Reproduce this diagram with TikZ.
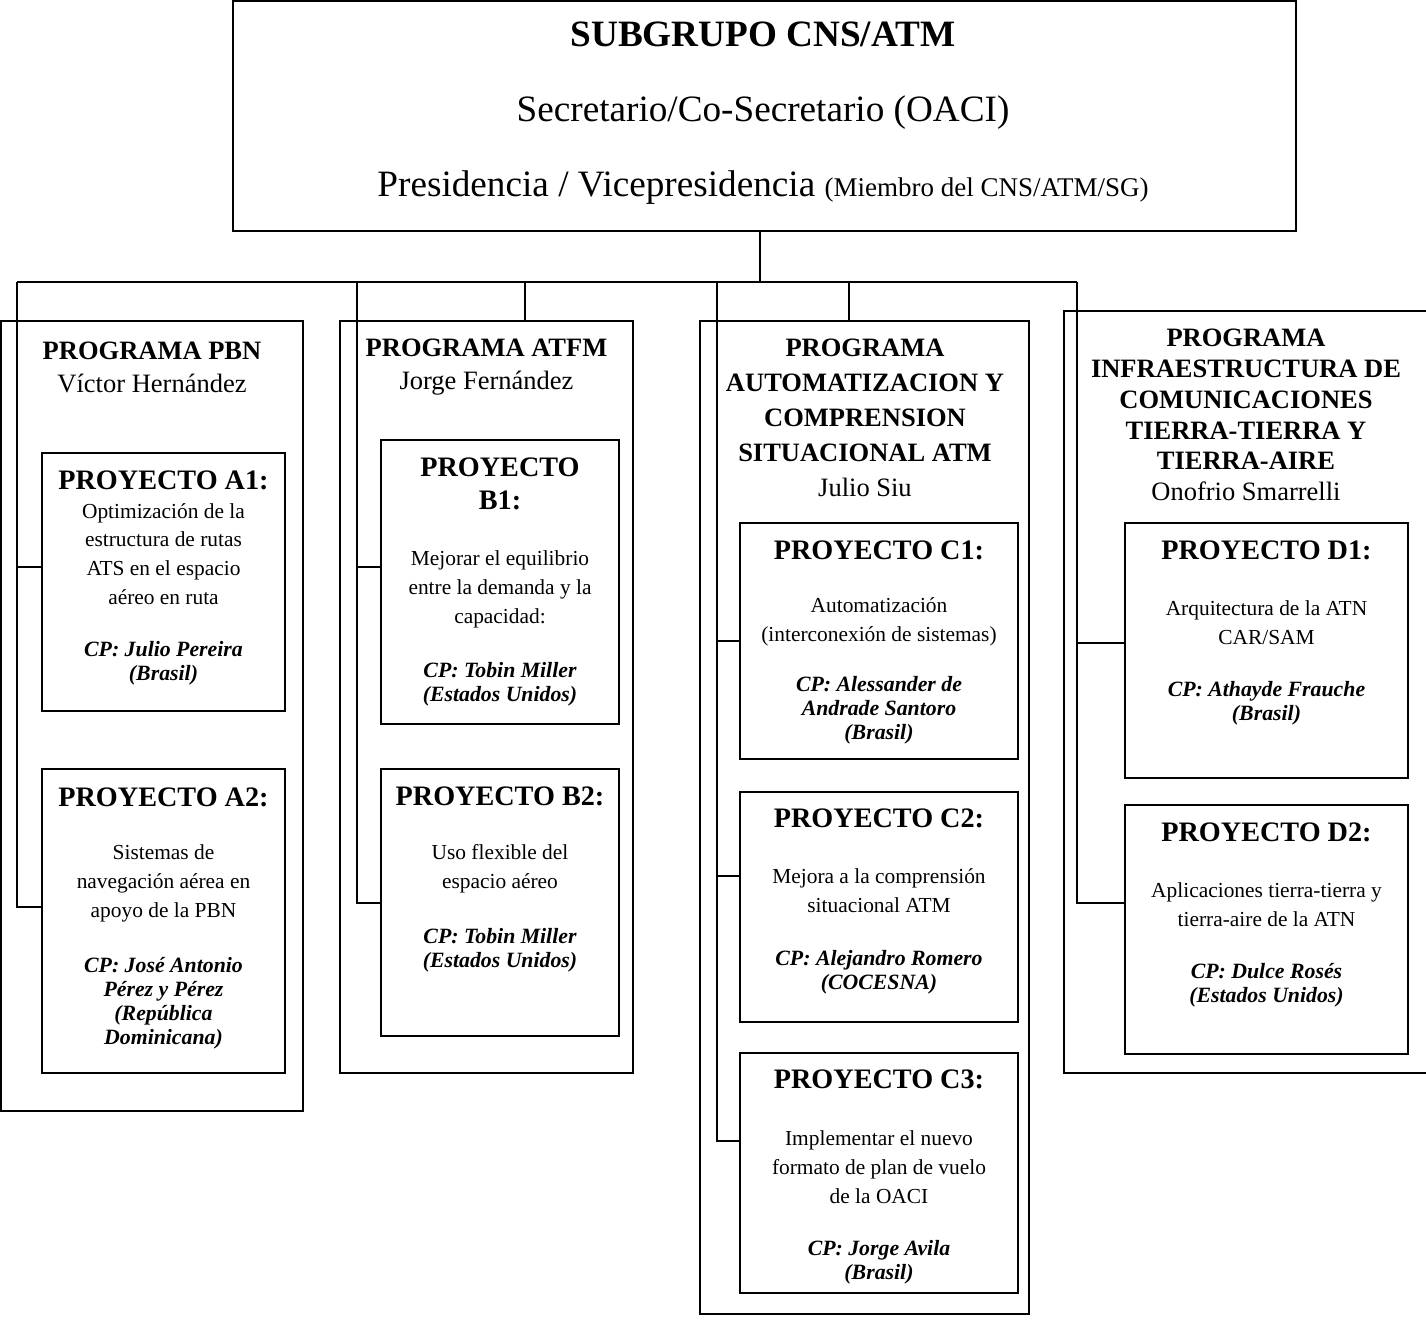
\documentclass[tikz,border=0pt]{standalone}
\usepackage{fontspec}
\setmainfont{Liberation Serif}

\begin{document}
\begin{tikzpicture}[
    x=0.5pt, y=-0.5pt,
    caja/.style={draw, line width=1pt, inner sep=0pt, outer sep=0pt},
    conector/.style={line width=1pt},
    toptext/.style={align=center, font=\fontsize{18.6}{37.5}\selectfont},
    progtext/.style={align=center, font=\fontsize{13.25}{16.5}\selectfont},
    projtitle/.style={align=center, font=\fontsize{14.1}{16.5}\selectfont\bfseries},
    projbody/.style={align=center, font=\fontsize{10.7}{14.35}\selectfont},
    projcp/.style={align=center, font=\fontsize{10.9}{12}\selectfont\bfseries\itshape}
]
    \useasboundingbox (0,0) rectangle (1426,1321);

    % Subgrupo (top box)
    \node[caja, minimum width=531.5pt, minimum height=115pt] (top) at (764.5,116) {};
    \node[toptext] (toptxt) at (763,113) {\textbf{SUBGRUPO CNS/ATM}\\ Secretario/Co-Secretario (OACI)\\ Presidencia / Vicepresidencia {\fontsize{13.5}{16}\selectfont (Miembro del CNS/ATM/SG)}};

    % Programs
    \node[caja, minimum width=151pt, minimum height=395pt] (pbn) at (152,716) {};
    \node[progtext] (pbntxt) at (152,367.5) {\textbf{PROGRAMA PBN}\\ Víctor Hernández};

    \node[caja, minimum width=146.5pt, minimum height=376pt] (atfm) at (486.5,697) {};
    \node[progtext] (atfmtxt) at (486.5,367) {\textbf{PROGRAMA ATFM}\\ Jorge Fernández};

    \node[caja, minimum width=164.5pt, minimum height=496.5pt] (aut) at (864.5,817.5) {};
    \node[progtext, font=\fontsize{13.25}{17.5}\selectfont] (auttxt) at (865,418) {\textbf{PROGRAMA}\\ \textbf{AUTOMATIZACION Y}\\ \textbf{COMPRENSION}\\ \textbf{SITUACIONAL ATM}\\ Julio Siu};

    \node[caja, minimum width=184pt, minimum height=381pt] (infra) at (1248,692) {};
    \node[progtext, font=\fontsize{13.25}{15.4}\selectfont] (infratxt) at (1246,415) {\textbf{PROGRAMA}\\ \textbf{INFRAESTRUCTURA DE}\\ \textbf{COMUNICACIONES}\\ \textbf{TIERRA-TIERRA Y}\\ \textbf{TIERRA-AIRE}\\ Onofrio Smarrelli};

    % Project A1
    \node[caja, minimum width=121.5pt, minimum height=129pt] (a1) at (163.5,582) {};
    \node[projtitle] (a1t) at (163.5,480) {PROYECTO A1:};
    \node[projbody] (a1b) at (163.5,554) {Optimización de la\\ estructura de rutas\\ ATS en el espacio\\ aéreo en ruta};
    \node[projcp] (a1cp) at (163.5,663) {CP: Julio Pereira\\ (Brasil)};

    % Project A2
    \node[caja, minimum width=121.5pt, minimum height=152pt] (a2) at (163.5,921) {};
    \node[projtitle] (a2t) at (163.5,797) {PROYECTO A2:};
    \node[projbody] (a2b) at (163.5,883.5) {Sistemas de\\ navegación aérea en\\ apoyo de la PBN};
    \node[projcp] (a2cp) at (163.5,1003) {CP: José Antonio\\ Pérez y Pérez\\ (República\\ Dominicana)};

    % Project B1
    \node[caja, minimum width=119pt, minimum height=142pt] (b1) at (500,582) {};
    \node[projtitle] (b1t) at (500,483.5) {PROYECTO\\ B1:};
    \node[projbody] (b1b) at (500,589.5) {Mejorar el equilibrio\\ entre la demanda y la\\ capacidad:};
    \node[projcp] (b1cp) at (500,684) {CP: Tobin Miller\\ (Estados Unidos)};

    % Project B2
    \node[caja, minimum width=119pt, minimum height=133.5pt] (b2) at (500,902.5) {};
    \node[projtitle] (b2t) at (500,796) {PROYECTO B2:};
    \node[projbody] (b2b) at (500,869) {Uso flexible del\\ espacio aéreo};
    \node[projcp] (b2cp) at (500,950) {CP: Tobin Miller\\ (Estados Unidos)};

    % Project C1
    \node[caja, minimum width=139pt, minimum height=118pt] (c1) at (879,641) {};
    \node[projtitle] (c1t) at (879,550) {PROYECTO C1:};
    \node[projbody] (c1b) at (879,621.5) {Automatización\\ (interconexión de sistemas)};
    \node[projcp] (c1cp) at (879,710) {CP: Alessander de\\ Andrade Santoro\\ (Brasil)};

    % Project C2
    \node[caja, minimum width=139pt, minimum height=115pt] (c2) at (879,907) {};
    \node[projtitle] (c2t) at (879,818) {PROYECTO C2:};
    \node[projbody] (c2b) at (879,891) {Mejora a la comprensión\\ situacional ATM};
    \node[projcp] (c2cp) at (879,972) {CP: Alejandro Romero\\ (COCESNA)};

    % Project C3
    \node[caja, minimum width=139pt, minimum height=120pt] (c3) at (879,1173) {};
    \node[projtitle] (c3t) at (879,1079) {PROYECTO C3:};
    \node[projbody] (c3b) at (879,1167) {Implementar el nuevo\\ formato de plan de vuelo\\ de la OACI};
    \node[projcp] (c3cp) at (879,1262) {CP: Jorge Avila\\ (Brasil)};

    % Project D1
    \node[caja, minimum width=141.5pt, minimum height=127.5pt] (d1) at (1266.5,650.5) {};
    \node[projtitle] (d1t) at (1266.5,550) {PROYECTO D1:};
    \node[projbody] (d1b) at (1266.5,623) {Arquitectura de la ATN\\ CAR/SAM};
    \node[projcp] (d1cp) at (1266.5,703.5) {CP: Athayde Frauche\\ (Brasil)};

    % Project D2
    \node[caja, minimum width=141.5pt, minimum height=124.5pt] (d2) at (1266.5,929.5) {};
    \node[projtitle] (d2t) at (1266.5,832) {PROYECTO D2:};
    \node[projbody] (d2b) at (1266.5,905) {Aplicaciones tierra-tierra y\\ tierra-aire de la ATN};
    \node[projcp] (d2cp) at (1266.5,985) {CP: Dulce Rosés\\ (Estados Unidos)};

    % Bus and drops
    \coordinate (busA) at (17,282);
    \coordinate (busB) at (357,282);
    \coordinate (busC) at (717,282);
    \coordinate (busD) at (1077,282);
    \coordinate (dropB) at (525,282);
    \coordinate (dropC) at (849,282);
    \draw[conector] ([xshift=-2.25pt]top.south) -- ([xshift=-2.25pt]top.south |- busA);
    \draw[conector] (busA) -- (busD);
    \draw[conector] (dropB) -- (dropB |- atfm.north);
    \draw[conector] (dropC) -- (dropC |- aut.north);

    % Rails to projects
    \foreach \n/\dy/\r in {a1/7.5pt/busA, a2/7pt/busA, b1/7.5pt/busB, b2/0pt/busB,
        c1/0pt/busC, c2/15.5pt/busC, c3/16pt/busC, d1/3.75pt/busD, d2/13.25pt/busD} {
        \draw[conector] ([yshift=\dy]\n.west) -| (\r);
    }
\end{tikzpicture}
\end{document}
